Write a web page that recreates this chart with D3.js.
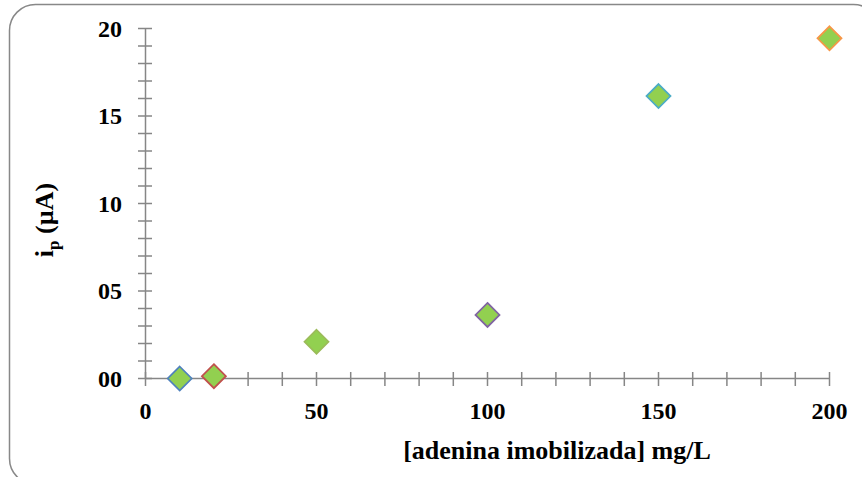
<!DOCTYPE html>
<html><head><meta charset="utf-8">
<script src="https://cdn.jsdelivr.net/npm/d3@7"></script>
<style>body{margin:0;background:#fff}svg{display:block}</style>
</head><body>
<script>
const xValues = [10, 20, 50, 100, 150, 200];
const yValues = [0.0, 0.13, 2.1, 3.63, 16.14, 19.44];
const outlineColors = ["#4F81BD", "#C0504D", "#9BBB59", "#8064A2", "#4BACC6", "#F79646"];
const xTicks = [0, 50, 100, 150, 200];
const yTicks = [0, 5, 10, 15, 20];
const yTickLabels = ["00", "05", "10", "15", "20"];
const xTitle = "[adenina imobilizada] mg/L";

const W = 862, H = 477;
const svg = d3.select("body").append("svg").attr("width", W).attr("height", H);
svg.append("rect").attr("x", 9.5).attr("y", 4.5).attr("width", 870).attr("height", 480)
  .attr("rx", 26).attr("fill", "#fff").attr("stroke", "#888").attr("stroke-width", 1.5);

const x = d3.scaleLinear().domain([0, 200]).range([145.5, 829.5]);
const y = d3.scaleLinear().domain([0, 20]).range([378.5, 28.5]);
const axisColor = "#868686";
const font = "'Liberation Serif','Times New Roman',serif";

const g = svg.append("g");
g.selectAll("line.ym").data(d3.range(0, 21, 1)).join("line")
  .attr("x1", 138).attr("x2", 152).attr("y1", d => y(d)).attr("y2", d => y(d))
  .attr("stroke", axisColor).attr("stroke-width", 1.5);
g.selectAll("line.xm").data(d3.range(0, 201, 10)).join("line")
  .attr("y1", 372).attr("y2", 386).attr("x1", d => x(d)).attr("x2", d => x(d))
  .attr("stroke", axisColor).attr("stroke-width", 1.5);
g.append("line").attr("x1", x(0)).attr("x2", x(0)).attr("y1", y(20)).attr("y2", y(0))
  .attr("stroke", axisColor).attr("stroke-width", 1.5);
g.append("line").attr("x1", x(0)).attr("x2", x(200)).attr("y1", y(0)).attr("y2", y(0))
  .attr("stroke", axisColor).attr("stroke-width", 1.5);

svg.selectAll("text.yt").data(yTicks).join("text")
  .attr("x", 122).attr("y", d => y(d) + 8).attr("text-anchor", "end")
  .attr("font-family", font).attr("font-weight", "bold").attr("font-size", 24)
  .text((d, i) => yTickLabels[i]);
svg.selectAll("text.xt").data(xTicks).join("text")
  .attr("x", d => x(d)).attr("y", 419).attr("text-anchor", "middle")
  .attr("font-family", font).attr("font-weight", "bold").attr("font-size", 24)
  .text(d => d);

svg.append("text").attr("x", 557).attr("y", 459).attr("text-anchor", "middle")
  .attr("font-family", font).attr("font-weight", "bold").attr("font-size", 26)
  .text(xTitle);

const yt = svg.append("text").attr("transform", "translate(53,220) rotate(-90)")
  .attr("text-anchor", "middle").attr("font-family", font).attr("font-weight", "bold").attr("font-size", 26);
yt.append("tspan").text("i");
yt.append("tspan").attr("font-size", 17).attr("dy", 6).text("p");
yt.append("tspan").attr("dy", -6).text(" (µA)");

const s = 12;
svg.selectAll("path.pt").data(xValues).join("path")
  .attr("d", (d, i) => {
    const cx = x(d), cy = y(yValues[i]);
    return `M${cx},${cy - s}L${cx + s},${cy}L${cx},${cy + s}L${cx - s},${cy}Z`;
  })
  .attr("fill", "#92D050").attr("stroke", (d, i) => outlineColors[i]).attr("stroke-width", 1.75);
</script>
</body></html>
